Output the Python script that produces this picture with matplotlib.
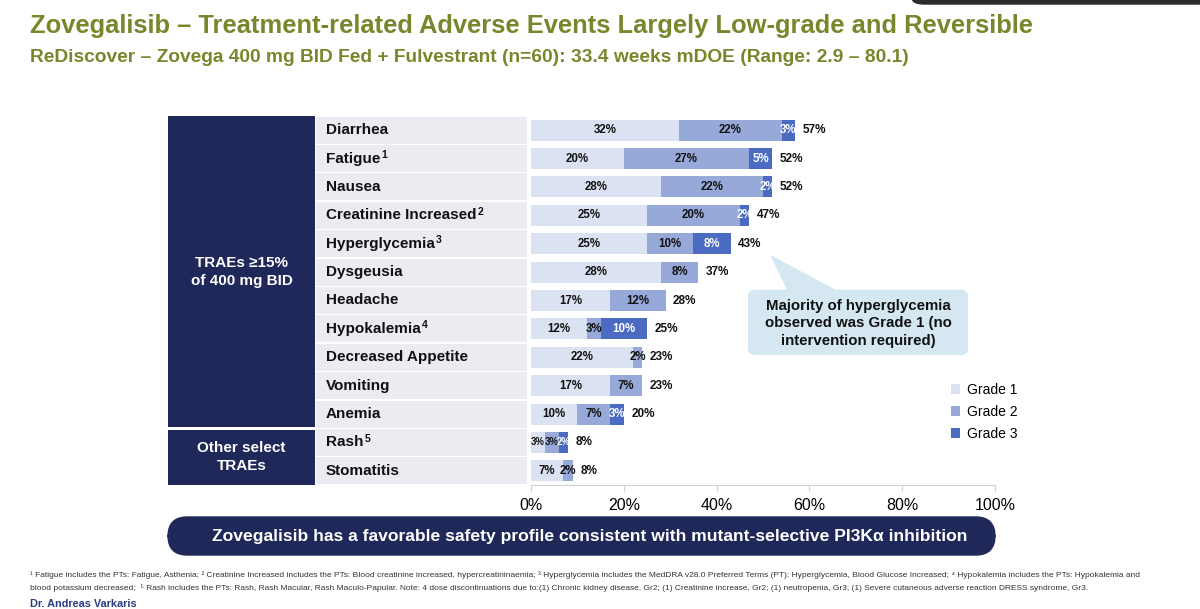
import matplotlib
matplotlib.use("Agg")
import matplotlib.pyplot as plt
from matplotlib.patches import Rectangle, FancyBboxPatch, Polygon
import numpy as np

plt.rcParams['font.family'] = ['Liberation Sans', 'DejaVu Sans']

# data (percent of patients)
events = ["Diarrhea", "Fatigue", "Nausea", "Creatinine Increased", "Hyperglycemia",
          "Dysgeusia", "Headache", "Hypokalemia", "Decreased Appetite", "Vomiting",
          "Anemia", "Rash", "Stomatitis"]
footnote_marks = ["", "1", "", "2", "3", "", "", "4", "", "", "", "5", ""]
grade1 = [32, 20, 28, 25, 25, 28, 17, 12, 22, 17, 10, 3, 7]
grade2 = [22, 27, 22, 20, 10, 8, 12, 3, 2, 7, 7, 3, 2]
grade3 = [3, 5, 2, 2, 8, 0, 0, 10, 0, 0, 3, 2, 0]
totals = [57, 52, 52, 47, 43, 37, 28, 25, 23, 23, 20, 8, 8]
grades = ["Grade 1", "Grade 2", "Grade 3"]
xticks = [0, 20, 40, 60, 80, 100]

c1, c2, c3 = "#dbe2f1", "#97a9d9", "#4a6bc1"
navy = "#1f2858"
olive = "#76882b"

fig = plt.figure(figsize=(12, 6.09), dpi=100)

# title block
fig.text(30/1200, 1-26/609, "Zovegalisib – Treatment-related Adverse Events Largely Low-grade and Reversible",
         fontsize=18.4, fontweight="bold", color=olive, va="center", ha="left")
fig.text(30/1200, 1-58/609, "ReDiscover – Zovega 400 mg BID Fed + Fulvestrant (n=60): 33.4 weeks mDOE (Range: 2.9 – 80.1)",
         fontsize=13.8, fontweight="bold", color=olive, va="center", ha="left")
fig.patches.append(FancyBboxPatch((912/1200, 1-4/609), 318/1200, 20/609,
                                  boxstyle="round,pad=0,rounding_size=0.01",
                                  transform=fig.transFigure, color="#2b2b2b", clip_on=False))

ax = fig.add_axes([168/1200, 1-485/609, (995-168)/1200, (485-116)/609])
xmin = 100 - 827/4.64
ax.set_xlim(xmin, 100)
ax.set_ylim(12.5, -0.5)
def px(p):
    return (p - 531)/4.64

y = np.arange(len(events))
g1 = np.array(grade1); g2 = np.array(grade2); g3 = np.array(grade3)

# label cells and group boxes
for i, name in enumerate(events):
    ax.add_patch(Rectangle((px(316), i-0.475), px(527)-px(316), 0.95, color="#ebebf1", lw=0))
    t = ax.text(px(326), i, name, fontsize=11, fontweight="bold", color="#111111",
                va="center", ha="left")
    if footnote_marks[i]:
        ax.annotate(footnote_marks[i], xy=(1, 1), xycoords=t, xytext=(1, 1),
                    textcoords="offset points", fontsize=7.5, fontweight="bold",
                    color="#111111", ha="left", va="top")
ax.add_patch(Rectangle((xmin, -0.5), px(315)-xmin, 10.97, color=navy, lw=0, clip_on=False))
ax.add_patch(Rectangle((xmin, 10.55), px(315)-xmin, 1.95, color=navy, lw=0, clip_on=False))
ax.text((xmin+px(315))/2, 5.0, "TRAEs ≥15%\nof 400 mg BID", color="white", fontsize=11,
        fontweight="bold", ha="center", va="center", linespacing=1.35)
ax.text((xmin+px(315))/2, 11.52, "Other select\nTRAEs", color="white", fontsize=11,
        fontweight="bold", ha="center", va="center", linespacing=1.35)

bh = 0.74
ax.barh(y, g1, height=bh, color=c1, label=grades[0])
ax.barh(y, g2, left=g1, height=bh, color=c2, label=grades[1])
ax.barh(y, g3, left=g1+g2, height=bh, color=c3, label=grades[2])

for i in range(len(events)):
    lefts = [0, g1[i], g1[i]+g2[i]]
    fs = 6.9 if totals[i] < 9 and g2[i] > 2 else 8.3
    for k, v in enumerate([g1[i], g2[i], g3[i]]):
        if v == 0:
            continue
        ax.text(lefts[k] + v/2, i, f"{v}%", ha="center", va="center", fontsize=fs,
                fontweight="bold", color="white" if k == 2 else "#111111")
    ax.text(g1[i]+g2[i]+g3[i] + 1.6, i, f"{totals[i]}%", ha="left", va="center",
            fontsize=8.5, fontweight="bold", color="#111111")

ax.set_xticks(xticks)
ax.set_xticklabels([f"{t}%" for t in xticks], fontsize=11.5)
ax.set_yticks([])
for s in ["top", "right", "left"]:
    ax.spines[s].set_visible(False)
ax.spines["bottom"].set_bounds(0, 100)
ax.spines["bottom"].set_color("#d0d0d0")
ax.tick_params(axis="x", length=4, color="#d0d0d0", pad=5)

# legend
leg = ax.legend(loc="upper left", bbox_to_anchor=((938-168)/827, 1-(370-116)/369),
                frameon=False, handlelength=0.7, handleheight=0.7, handletextpad=0.5,
                labelspacing=0.6, prop={"size": 10})

# callout
ax.add_patch(FancyBboxPatch((px(748), 5.62), px(968)-px(748), 2.3,
                            boxstyle="round,pad=0,rounding_size=1.6", color="#d5e8f2", lw=0,
                            mutation_aspect=0.14))
ax.add_patch(Polygon([[px(770), 4.39], [px(788), 5.7], [px(840), 5.7]], closed=True,
                     color="#d5e8f2", lw=0))
ax.text(px(858), 6.8, "Majority of hyperglycemia\nobserved was Grade 1 (no\nintervention required)",
        ha="center", va="center", fontsize=10.8, fontweight="bold", color="#111111", linespacing=1.3)

# bottom banner
fig.patches.append(FancyBboxPatch((168/1200, 1-555/609), 827/1200, 38/609,
                                  boxstyle="round,pad=0,rounding_size=0.016",
                                  mutation_aspect=2.0, transform=fig.transFigure,
                                  color=navy, clip_on=False))
fig.text(590/1200, 1-537/609, "Zovegalisib has a favorable safety profile consistent with mutant-selective PI3Kα inhibition",
         color="white", fontsize=12.6, fontweight="bold", ha="center", va="center")

fig.text(30/1200, 1-575/609,
         "¹ Fatigue includes the PTs: Fatigue, Asthenia; ² Creatinine Increased includes the PTs: Blood creatinine increased, hypercreatininaemia; ³ Hyperglycemia includes the MedDRA v28.0 Preferred Terms (PT): Hyperglycemia, Blood Glucose Increased; ⁴ Hypokalemia includes the PTs: Hypokalemia and",
         fontsize=6.0, color="#333333", va="center", ha="left")
fig.text(30/1200, 1-588/609,
         "blood potassium decreased;  ⁵ Rash includes the PTs: Rash, Rash Macular, Rash Maculo-Papular. Note: 4 dose discontinuations due to:(1) Chronic kidney disease, Gr2; (1) Creatinine increase, Gr2; (1) neutropenia, Gr3; (1) Severe cutaneous adverse reaction DRESS syndrome, Gr3.",
         fontsize=6.0, color="#333333", va="center", ha="left")
fig.text(30/1200, 1-604/609, "Dr. Andreas Varkaris", fontsize=7.8, fontweight="bold",
         color="#2a3d80", va="center", ha="left")

fig.savefig("out.png", dpi=100)
